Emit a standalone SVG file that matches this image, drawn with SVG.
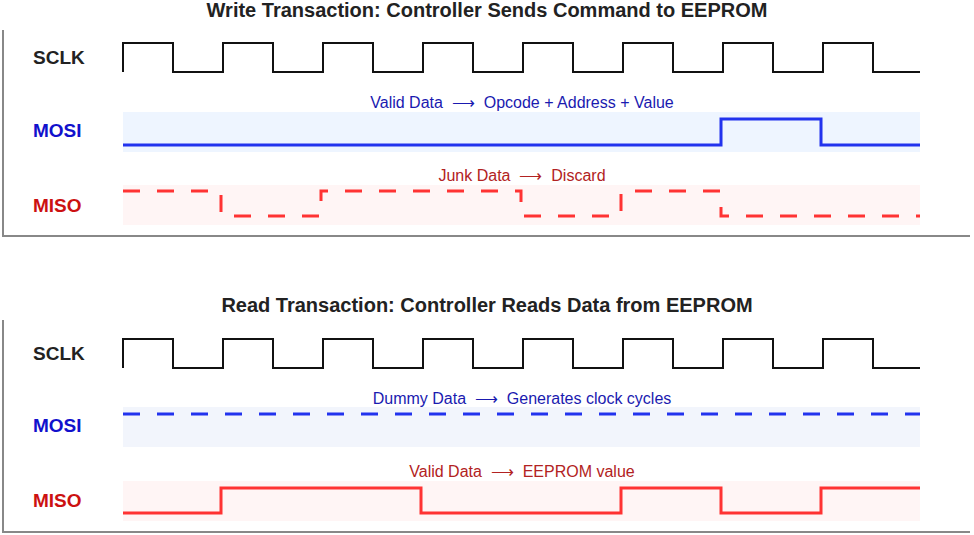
<svg xmlns="http://www.w3.org/2000/svg" width="974" height="535" viewBox="0 0 974 535">
<style>
text{font-family:"Liberation Sans",Arial,sans-serif}
.t{font-size:20px;font-weight:bold;fill:#222;text-anchor:middle}
.lb{font-size:19px;font-weight:bold}
.an{font-size:16px;text-anchor:middle;white-space:pre}
.clk{fill:none;stroke:#111;stroke-width:2}
.mo{fill:none;stroke:#2233ee;stroke-width:3}
.mi{fill:none;stroke:#ff3333;stroke-width:3}
.d{stroke-dasharray:17,17}
.frame{fill:none;stroke:#888;stroke-width:2}
</style>
<rect width="974" height="535" fill="#fff"/>
<g id="write">
<path class="frame" d="M3 30V236H970"/>
<text class="t" x="487" y="17">Write Transaction: Controller Sends Command to EEPROM</text>
<g id="w-sclk"><text class="lb" x="33" y="64" fill="#222">SCLK</text>
<path class="clk" d="M123 72V43H173V72H223V43H273V72H323V43H373V72H423V43H473V72H523V43H573V72H623V43H673V72H723V43H773V72H823V43H873V72H920"/></g>
<g id="w-mosi"><text class="lb" x="33" y="137" fill="#1111cc">MOSI</text>
<rect x="123" y="112" width="797" height="40" fill="#eef5ff"/>
<text class="an" x="522" y="108" fill="#1a1ab0" xml:space="preserve">Valid Data  ⟶  Opcode + Address + Value</text>
<path class="mo" d="M123 145H721V119H821V145H920"/></g>
<g id="w-miso"><text class="lb" x="33" y="212" fill="#cc1111">MISO</text>
<rect x="123" y="185" width="797" height="40" fill="#fff5f5"/>
<text class="an" x="522" y="181" fill="#b22222" xml:space="preserve">Junk Data  ⟶  Discard</text>
<path class="mi d" d="M123 191H221V216H321V191H521V216H621V191H721V216H920"/></g>
</g>
<g id="read">
<path class="frame" d="M3 320V532H970"/>
<text class="t" x="487" y="312">Read Transaction: Controller Reads Data from EEPROM</text>
<g id="r-sclk"><text class="lb" x="33" y="360" fill="#222">SCLK</text>
<path class="clk" d="M123 368V339H173V368H223V339H273V368H323V339H373V368H423V339H473V368H523V339H573V368H623V339H673V368H723V339H773V368H823V339H873V368H920"/></g>
<g id="r-mosi"><text class="lb" x="33" y="432" fill="#1111cc">MOSI</text>
<rect x="123" y="407" width="797" height="40" fill="#f2f5fc"/>
<text class="an" x="522" y="404" fill="#1a1ab0" xml:space="preserve">Dummy Data  ⟶  Generates clock cycles</text>
<path class="mo d" d="M123 414H920"/></g>
<g id="r-miso"><text class="lb" x="33" y="507" fill="#cc1111">MISO</text>
<rect x="123" y="481" width="797" height="40" fill="#fff5f5"/>
<text class="an" x="522" y="477" fill="#b22222" xml:space="preserve">Valid Data  ⟶  EEPROM value</text>
<path class="mi" d="M123 513H221V488H421V513H621V488H721V513H821V488H920"/></g>
</g>
</svg>
